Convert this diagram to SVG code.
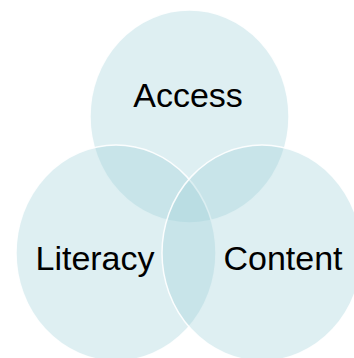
<svg xmlns="http://www.w3.org/2000/svg" width="354" height="358" viewBox="0 0 354 358">
<style>
.c{fill:rgb(160,210,217);fill-opacity:0.35;stroke:#ffffff;stroke-width:1.5;stroke-opacity:0.9}
.t{font-family:"Liberation Sans",Arial,sans-serif;font-size:34px;fill:#000;text-anchor:middle}
</style>
<rect width="354" height="358" fill="#ffffff"/>
<g id="access"><ellipse class="c" cx="189.5" cy="116.5" rx="99.5" ry="106.5"/></g>
<g id="literacy"><ellipse class="c" cx="116" cy="253" rx="100" ry="108"/></g>
<g id="content"><ellipse class="c" cx="262" cy="253" rx="100" ry="108"/></g>
<g id="access-label"><text class="t" x="188" y="107">Access</text></g>
<g id="literacy-label"><text class="t" x="95" y="270">Literacy</text></g>
<g id="content-label"><text class="t" x="283" y="270">Content</text></g>
<g id="connectors"/>
</svg>
